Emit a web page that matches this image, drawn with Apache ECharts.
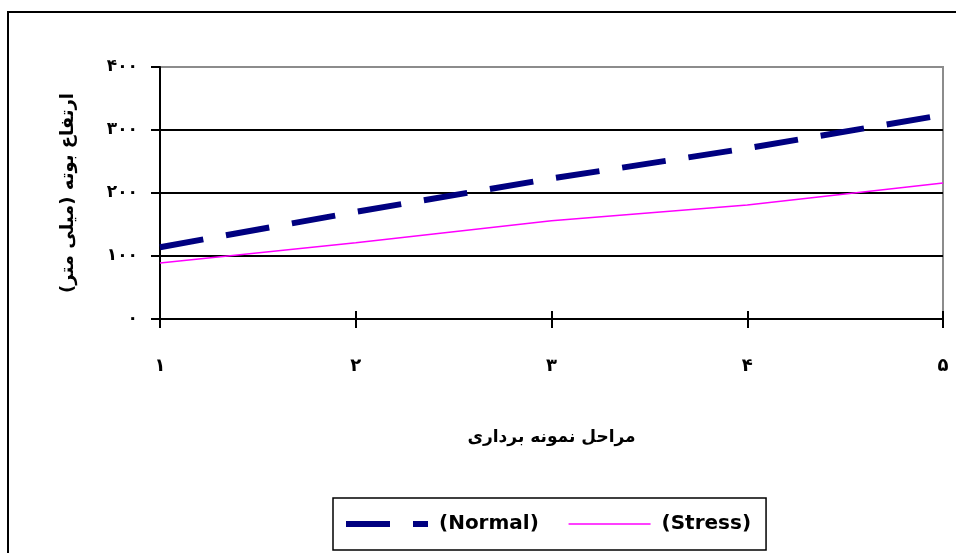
<!DOCTYPE html>
<html><head><meta charset="utf-8">
<script src="https://cdn.jsdelivr.net/npm/echarts@6/dist/echarts.min.js"></script>
<style>html,body{margin:0;padding:0;background:#fff}#c{width:956px;height:553px}</style>
</head><body><div id="c"></div>
<script>
const categories = ['۱','۲','۳','۴','۵'];
const yTickLabels = ['۰','۱۰۰','۲۰۰','۳۰۰','۴۰۰'];
const normalValues = [114, 170, 223, 271, 324];
const stressValues = [89, 121, 156, 181, 216];
const seriesNames = ['(Normal)', '(Stress)'];
const xTitle = 'مراحل نمونه برداری';
const yTitle = 'ارتفاع بوته (میلی متر)';

const chart = echarts.init(document.getElementById('c'));
const fa = 'DejaVu Sans';
const normalStyle = {color: '#000080', width: 6, type: [44, 23], cap: 'butt'};
const stressStyle = {color: '#ff00ff', width: 1.5};
chart.setOption({
  animation: false,
  backgroundColor: '#fff',
  graphic: [{
    type: 'rect', shape: {x: 8, y: 12, width: 960, height: 560},
    style: {fill: 'none', stroke: '#000', lineWidth: 2}, z: -1
  }],
  grid: {left: 160, right: 13, top: 67, bottom: 234, show: true,
         borderColor: '#8c8c8c', borderWidth: 2, backgroundColor: 'transparent'},
  legend: {
    left: 333, top: 498, orient: 'horizontal',
    itemWidth: 82, itemHeight: 14, itemGap: 29,
    padding: [16, 15, 16, 10],
    borderColor: '#000', borderWidth: 1.5,
    textStyle: {fontFamily: 'DejaVu Sans', fontWeight: 'bold', fontSize: 20, color: '#000', padding: [0, 0, 0, 6]},
    data: [
      {name: seriesNames[0], itemStyle: {opacity: 0}, lineStyle: normalStyle},
      {name: seriesNames[1], itemStyle: {opacity: 0}, lineStyle: stressStyle}
    ]
  },
  xAxis: [{
    type: 'category', data: categories, boundaryGap: false,
    axisLine: {lineStyle: {color: '#000', width: 2}},
    axisTick: {show: true, length: 9, lineStyle: {color: '#000', width: 2}},
    axisLabel: {margin: 38, fontFamily: fa, fontWeight: 'bold', fontSize: 18, color: '#000'},
    name: xTitle, nameLocation: 'middle', nameGap: 110,
    nameTextStyle: {fontFamily: fa, fontWeight: 'bold', fontSize: 17, color: '#000'},
    splitLine: {show: false}
  }, {
    type: 'category', data: categories, boundaryGap: false, position: 'bottom',
    axisLine: {show: false},
    axisTick: {show: true, inside: true, length: 8, lineStyle: {color: '#000', width: 2}},
    axisLabel: {show: false}, splitLine: {show: false}
  }],
  yAxis: {
    type: 'value', min: 0, max: 400, interval: 100,
    axisLine: {show: true, lineStyle: {color: '#000', width: 2}},
    axisTick: {show: true, length: 9, lineStyle: {color: '#000', width: 2}},
    axisLabel: {margin: 22, fontFamily: fa, fontWeight: 'bold', fontSize: 17, color: '#000',
      formatter: v => yTickLabels[Math.round(v / 100)]},
    splitLine: {show: true, showMinLine: false, showMaxLine: false, lineStyle: {color: '#000', width: 2}},
    name: yTitle, nameLocation: 'middle', nameGap: 83, nameRotate: 90,
    nameTextStyle: {fontFamily: fa, fontWeight: 'bold', fontSize: 18, color: '#000'}
  },
  series: [{
    name: seriesNames[0], type: 'line', data: normalValues, symbol: 'none',
    lineStyle: normalStyle, itemStyle: {color: '#000080'}, z: 3
  }, {
    name: seriesNames[1], type: 'line', data: stressValues, symbol: 'none',
    lineStyle: stressStyle, itemStyle: {color: '#ff00ff'}, z: 2
  }]
});
</script></body></html>
